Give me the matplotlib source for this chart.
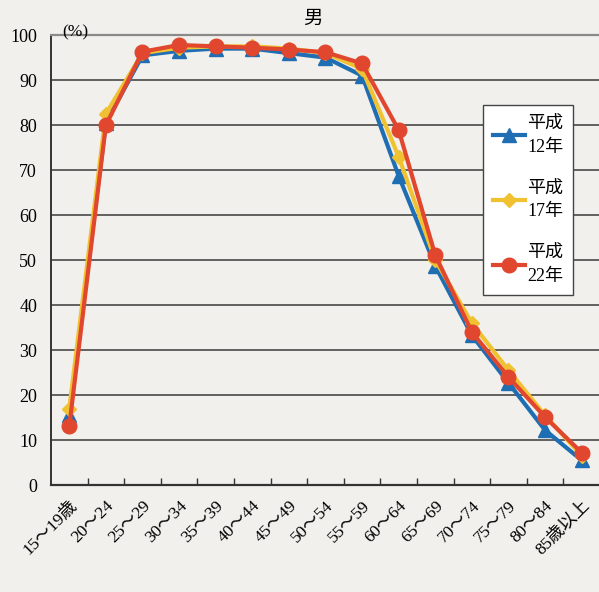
import matplotlib
matplotlib.use("Agg")
import matplotlib.pyplot as plt
import numpy as np

plt.rcParams['font.family'] = ['Liberation Serif', 'Noto Sans CJK JP', 'DejaVu Sans']

# 年齢階級
ages = ["15～19歳", "20～24", "25～29", "30～34", "35～39", "40～44", "45～49",
        "50～54", "55～59", "60～64", "65～69", "70～74", "75～79", "80～84",
        "85歳以上"]

# 労働力率 (%) 男
h12 = [15.5, 80.5, 95.5, 96.5, 97.0, 97.0, 96.0, 95.0, 91.0, 68.7, 48.7, 33.3,
       22.7, 12.2, 5.5]
h17 = [17.0, 82.5, 96.0, 97.2, 97.5, 97.5, 97.0, 96.0, 92.5, 73.0, 50.0, 36.0,
       25.5, 15.5, 6.5]
h22 = [13.1, 80.0, 96.3, 97.8, 97.5, 97.2, 96.8, 96.2, 93.7, 78.9, 51.1, 34.0,
       24.0, 15.1, 7.2]

series = [("平成\n12年", h12, "#1f6db3", "^", 10),
          ("平成\n17年", h17, "#f0c232", "D", 7),
          ("平成\n22年", h22, "#e1472f", "o", 10.5)]

paper = "#f1f0ec"
fig = plt.figure(figsize=(5.99, 5.92), dpi=100, facecolor=paper)
ax = fig.add_axes([0.0851, 0.1807, 0.9165, 0.760], facecolor=paper)

x = np.arange(len(ages))
for label, vals, col, mk, ms in series:
    ax.plot(x, vals, color=col, lw=3.0, marker=mk, ms=ms, label=label,
            markeredgecolor=col, zorder=3)

ax.set_xlim(-0.5, len(ages) - 0.5)
ax.set_ylim(0, 100)
ax.set_yticks(np.arange(0, 101, 10))
ax.tick_params(axis='y', length=0, pad=10, labelsize=13)
for v in range(10, 100, 10):
    ax.axhline(v, color="#3a3a3a", lw=1.1, zorder=1)

ax.set_xticks(x)
ax.set_xticklabels(ages, rotation=45, ha='right', rotation_mode='anchor',
                   fontsize=12.5)
ax.tick_params(axis='x', length=0, pad=9)
ax.set_xticks(np.arange(0.5, len(ages) - 0.5, 1), minor=True)
ax.tick_params(axis='x', which='minor', direction='in', length=5,
               width=1, color="#333333")

ax.spines['right'].set_visible(False)
ax.spines['top'].set_color("#8a8a8a")
ax.spines['top'].set_linewidth(1.6)
ax.spines['left'].set_color("#333333")
ax.spines['bottom'].set_color("#333333")
ax.spines['left'].set_linewidth(1.4)
ax.spines['bottom'].set_linewidth(1.6)

fig.text(0.523, 0.968, "男", fontsize=14, ha='center', va='center')
fig.text(0.125, 0.946, "(%)", fontsize=12.5, ha='center', va='center')

leg = ax.legend(loc='upper left', bbox_to_anchor=(0.806, 0.823),
                bbox_transform=fig.transFigure, fontsize=13,
                handlelength=1.8, handletextpad=0.1, labelspacing=1.3,
                borderpad=0.55, borderaxespad=0, fancybox=False,
                framealpha=1, edgecolor="#444444", facecolor="white")
leg.get_frame().set_linewidth(1.0)
for t in leg.get_texts():
    t.set_linespacing(1.55)

fig.savefig("out.png", dpi=100, facecolor=paper)
